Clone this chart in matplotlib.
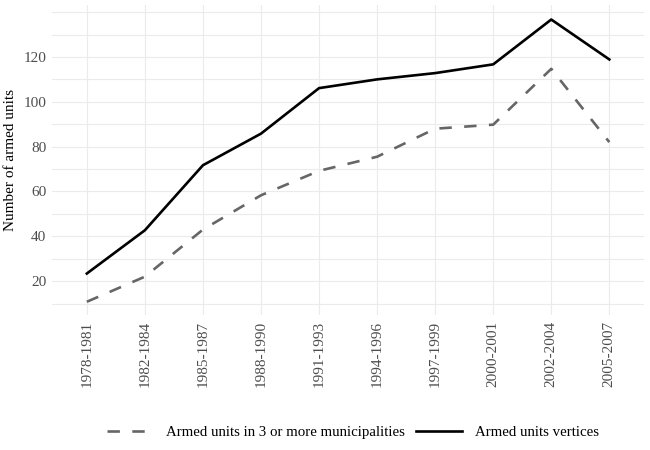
import numpy as np
import matplotlib.pyplot as plt
from matplotlib.ticker import FixedLocator

periods = ["1978-1981", "1982-1984", "1985-1987", "1988-1990", "1991-1993",
           "1994-1996", "1997-1999", "2000-2001", "2002-2004", "2005-2007"]
vertices = [23.4, 42.7, 71.7, 85.8, 106.1, 110.0, 112.8, 116.7, 136.7, 118.9]
three_plus = [10.8, 22.0, 43.0, 58.3, 69.2, 75.5, 88.0, 89.8, 114.7, 82.0]

plt.rcParams['font.family'] = ['Liberation Serif', 'DejaVu Serif']

fig = plt.figure(figsize=(6.5, 4.5), dpi=100)
ax = fig.add_axes([0.08, 0.30, 0.911, 0.689])

x = np.arange(len(periods))
ax.plot(x, three_plus, color='#666666', linewidth=1.9, dashes=(4.7, 4.7),
        label="Armed units in 3 or more municipalities")
ax.plot(x, vertices, color='black', linewidth=1.9,
        label="Armed units vertices")

ax.set_xlim(-0.6, len(periods) - 0.4)
ax.set_ylim(4.9, 143.2)
ax.set_xticks(x)
ax.set_xticklabels(periods, rotation=90)
ax.yaxis.set_major_locator(FixedLocator([20, 40, 60, 80, 100, 120]))
ax.yaxis.set_minor_locator(FixedLocator([10, 30, 50, 70, 90, 110, 130, 140]))
ax.grid(True, which='both', color='#EBEBEB', linewidth=0.8)
ax.set_axisbelow(True)
for s in ax.spines.values():
    s.set_visible(False)
ax.tick_params(which='both', length=0, labelsize=11, labelcolor='#4D4D4D', pad=4)
ax.set_ylabel("Number of armed units", fontsize=11, labelpad=5)

fig.legend(loc='center', bbox_to_anchor=(0.543, 0.04), ncol=2, frameon=False,
           fontsize=10.7, handlelength=3.1, columnspacing=0.7, handletextpad=0.9)

fig.savefig("out.png", dpi=100)
